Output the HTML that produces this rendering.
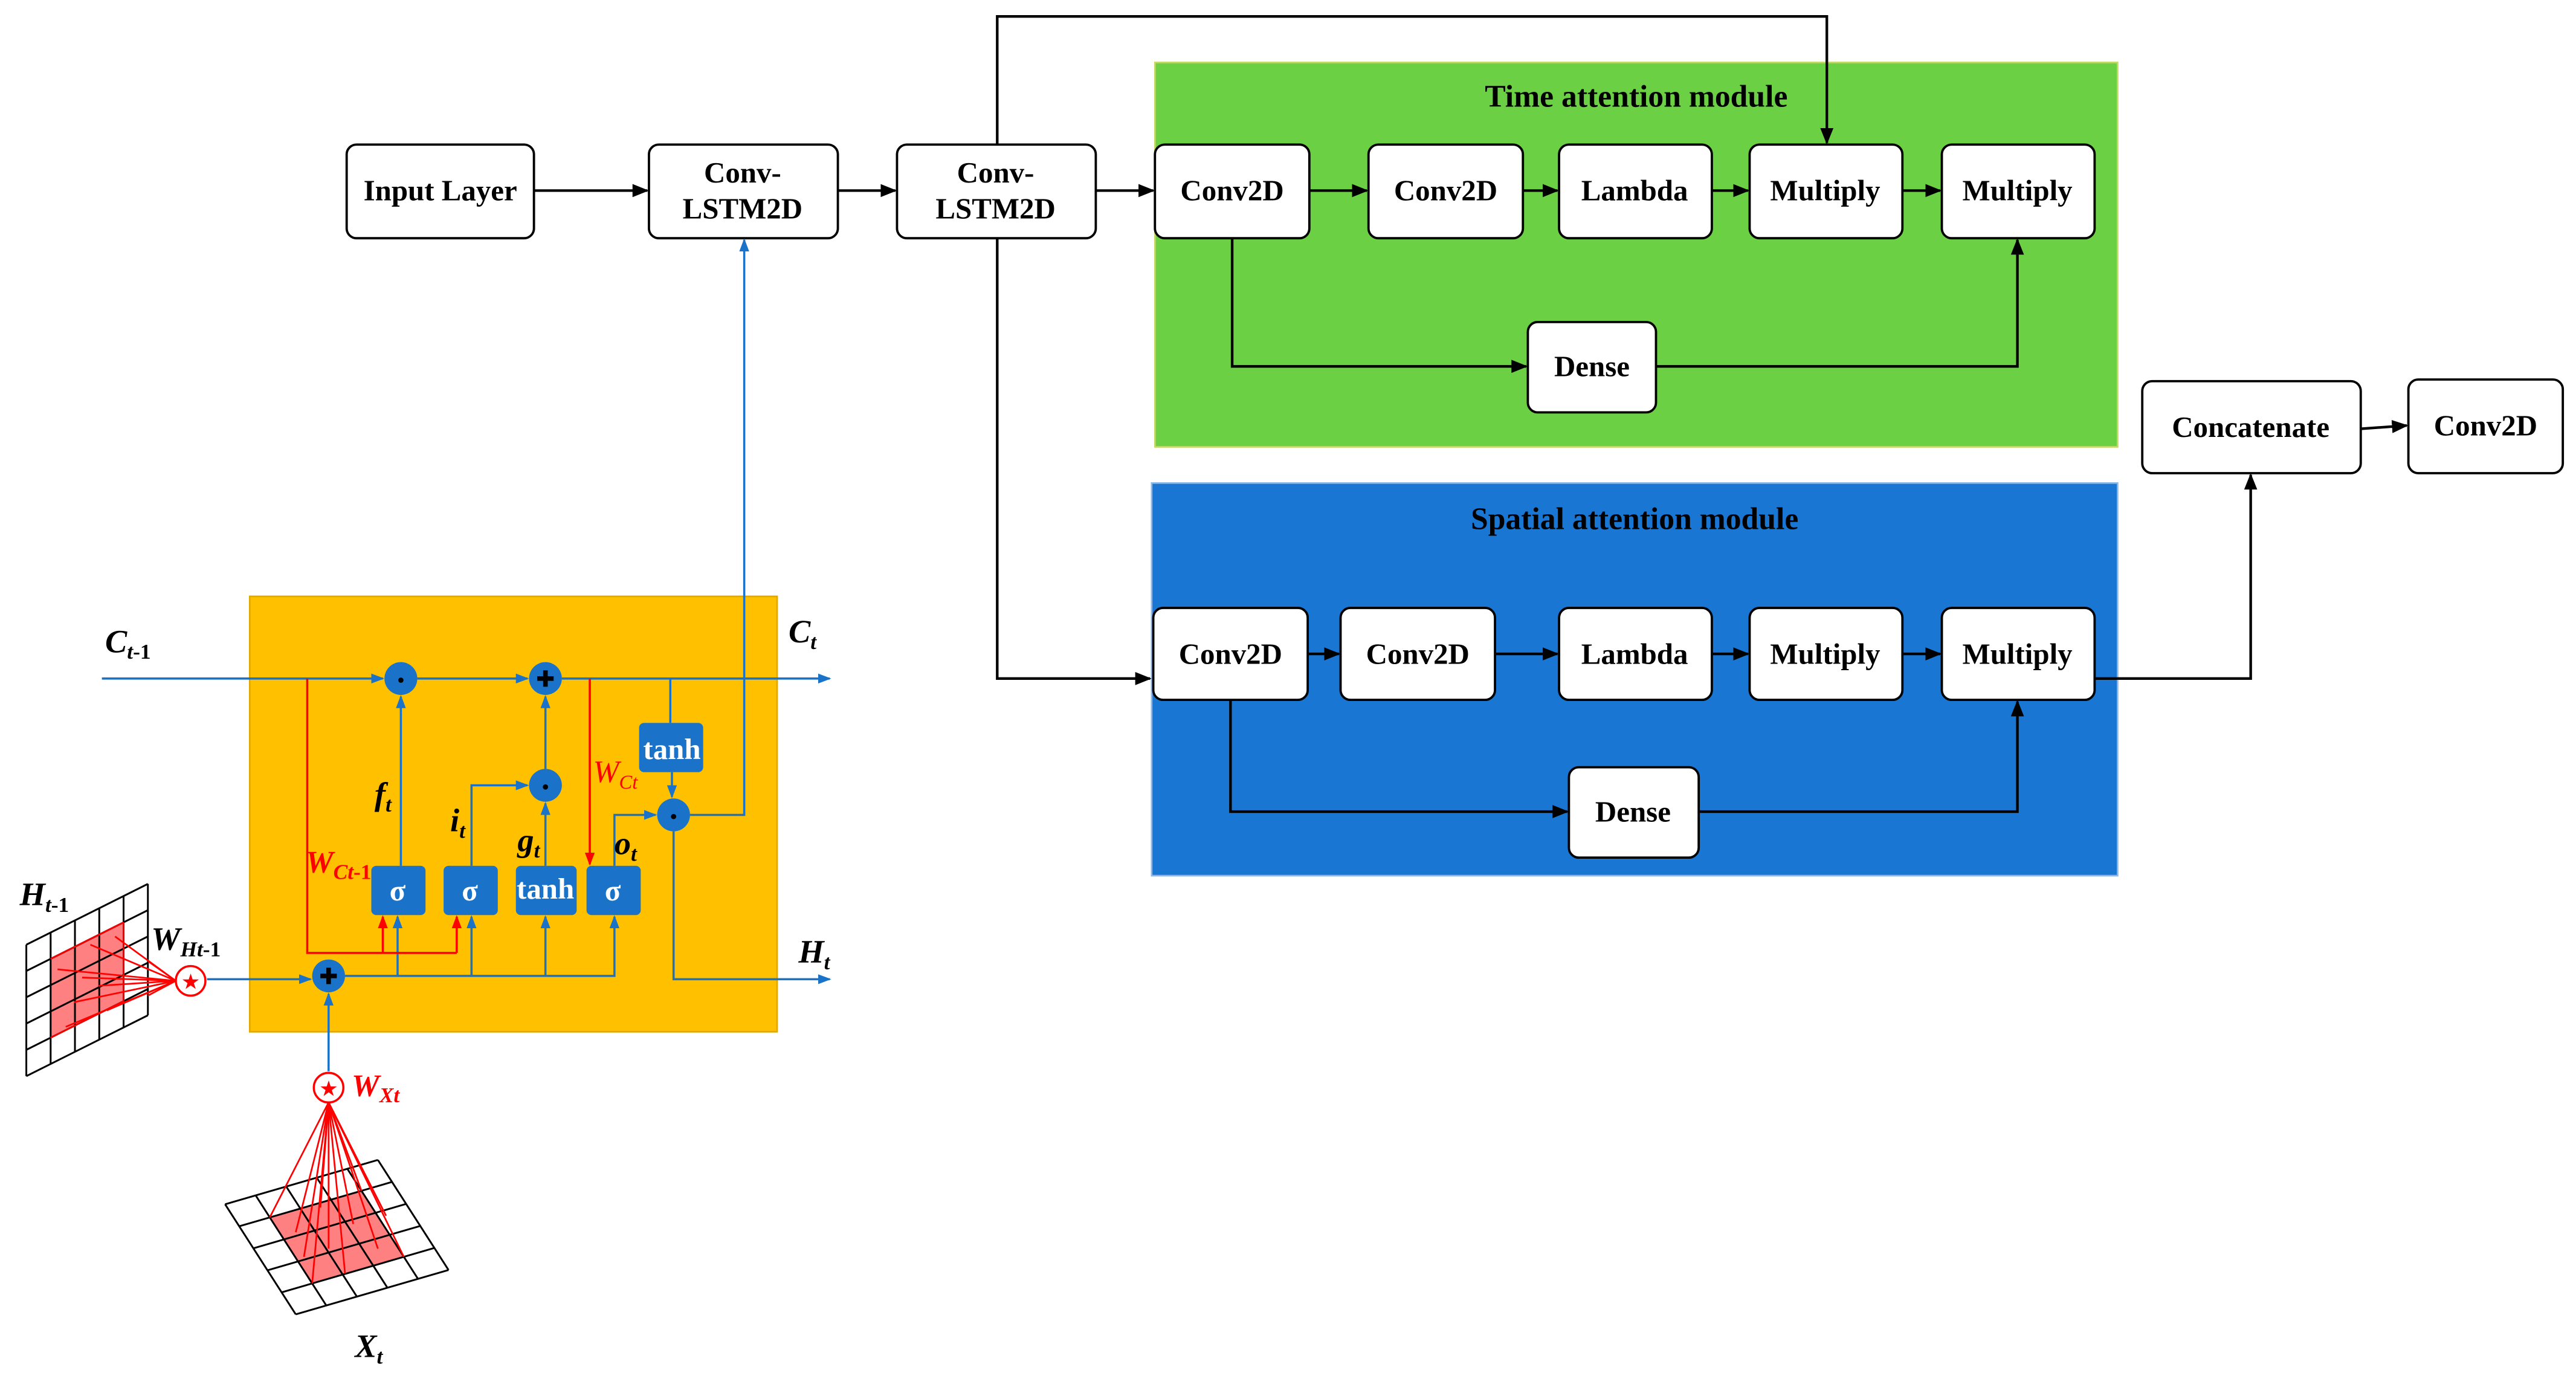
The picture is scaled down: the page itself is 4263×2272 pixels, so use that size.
<!DOCTYPE html>
<html><head><meta charset="utf-8"><style>
html,body{margin:0;padding:0;background:#fff;}
svg{display:block;font-family:"Liberation Serif","Times New Roman",serif;}
svg text{font-family:"Liberation Serif","Times New Roman",serif;}
</style></head><body>
<svg width="4263" height="2272" viewBox="0 0 1568 835.7" xmlns="http://www.w3.org/2000/svg" font-family="'Liberation Serif', 'Times New Roman', serif">
<defs>
<marker id="ak" markerWidth="10" markerHeight="10" refX="9" refY="5" orient="auto" markerUnits="userSpaceOnUse"><path d="M0,1 L10,5 L0,9 Z" fill="#000"/></marker>
<marker id="ab" markerWidth="8" markerHeight="8" refX="7" refY="4" orient="auto" markerUnits="userSpaceOnUse"><path d="M0,1 L8,4 L0,7 Z" fill="#1a73c8"/></marker>
<marker id="ar" markerWidth="8" markerHeight="8" refX="7" refY="4" orient="auto" markerUnits="userSpaceOnUse"><path d="M0,1 L8,4 L0,7 Z" fill="#f00"/></marker>
</defs>
<rect width="1568" height="836" fill="#fff"/>

<rect x="703" y="38" width="586" height="234" fill="#6cd044" stroke="#c8d86a" stroke-width="1"/>
<text x="996" y="65" font-size="19" font-weight="bold" text-anchor="middle">Time attention module</text>
<rect x="701" y="294" width="588" height="239" fill="#1976d2" stroke="#8fb8e8" stroke-width="1"/>
<text x="995" y="322" font-size="19" font-weight="bold" text-anchor="middle">Spatial attention module</text>

<rect x="152" y="363" width="321" height="265" fill="#ffc000" stroke="#e0a800" stroke-width="1"/>

<g stroke="#000" stroke-width="1.6" fill="none">
<line x1="325" y1="116" x2="394" y2="116" marker-end="url(#ak)"/>
<line x1="510" y1="116" x2="545" y2="116" marker-end="url(#ak)"/>
<line x1="667" y1="116" x2="702" y2="116" marker-end="url(#ak)"/>
<polyline points="607,88 607,10 1112,10 1112,87" marker-end="url(#ak)"/>
<polyline points="607,145 607,413 700,413" marker-end="url(#ak)"/>
<line x1="797" y1="116" x2="832" y2="116" marker-end="url(#ak)"/>
<line x1="927" y1="116" x2="948" y2="116" marker-end="url(#ak)"/>
<line x1="1042" y1="116" x2="1064" y2="116" marker-end="url(#ak)"/>
<line x1="1158" y1="116" x2="1181" y2="116" marker-end="url(#ak)"/>
<polyline points="750,145 750,223 929,223" marker-end="url(#ak)"/>
<polyline points="1008,223 1228,223 1228,146" marker-end="url(#ak)"/>
<line x1="796" y1="398" x2="815" y2="398" marker-end="url(#ak)"/>
<line x1="910" y1="398" x2="948" y2="398" marker-end="url(#ak)"/>
<line x1="1042" y1="398" x2="1064" y2="398" marker-end="url(#ak)"/>
<line x1="1158" y1="398" x2="1181" y2="398" marker-end="url(#ak)"/>
<polyline points="749,426 749,494 954,494" marker-end="url(#ak)"/>
<polyline points="1034,494 1228,494 1228,427" marker-end="url(#ak)"/>
<polyline points="1275,413 1370,413 1370,289" marker-end="url(#ak)"/>
<line x1="1437" y1="261" x2="1465" y2="259" marker-end="url(#ak)"/>
</g>

<g fill="#fff" stroke="#000" stroke-width="1.4">
<rect x="211" y="88" width="114" height="57" rx="6"/>
<rect x="395" y="88" width="115" height="57" rx="6"/>
<rect x="546" y="88" width="121" height="57" rx="6"/>
<rect x="703" y="88" width="94" height="57" rx="6"/>
<rect x="833" y="88" width="94" height="57" rx="6"/>
<rect x="949" y="88" width="93" height="57" rx="6"/>
<rect x="1065" y="88" width="93" height="57" rx="6"/>
<rect x="1182" y="88" width="93" height="57" rx="6"/>
<rect x="930" y="196" width="78" height="55" rx="6"/>
<rect x="702" y="370" width="94" height="56" rx="6"/>
<rect x="816" y="370" width="94" height="56" rx="6"/>
<rect x="949" y="370" width="93" height="56" rx="6"/>
<rect x="1065" y="370" width="93" height="56" rx="6"/>
<rect x="1182" y="370" width="93" height="56" rx="6"/>
<rect x="955" y="467" width="79" height="55" rx="6"/>
<rect x="1304" y="232" width="133" height="56" rx="6"/>
<rect x="1466" y="231" width="94" height="57" rx="6"/>
</g>
<g font-size="18" font-weight="bold" text-anchor="middle">
<text x="268" y="122">Input Layer</text>
<text x="452" y="111">Conv-</text><text x="452" y="133">LSTM2D</text>
<text x="606" y="111">Conv-</text><text x="606" y="133">LSTM2D</text>
<text x="750" y="122">Conv2D</text>
<text x="880" y="122">Conv2D</text>
<text x="995" y="122">Lambda</text>
<text x="1111" y="122">Multiply</text>
<text x="1228" y="122">Multiply</text>
<text x="969" y="229">Dense</text>
<text x="749" y="404">Conv2D</text>
<text x="863" y="404">Conv2D</text>
<text x="995" y="404">Lambda</text>
<text x="1111" y="404">Multiply</text>
<text x="1228" y="404">Multiply</text>
<text x="994" y="500">Dense</text>
<text x="1370" y="266">Concatenate</text>
<text x="1513" y="265">Conv2D</text>
</g>

<g stroke="#1a73c8" stroke-width="1.3" fill="none">
<line x1="62" y1="413" x2="233" y2="413" marker-end="url(#ab)"/>
<line x1="254" y1="413" x2="321" y2="413" marker-end="url(#ab)"/>
<line x1="342" y1="413" x2="505" y2="413" marker-end="url(#ab)"/>
<line x1="244" y1="527" x2="244" y2="424" marker-end="url(#ab)"/>
<polyline points="287,527 287,478 321,478" marker-end="url(#ab)"/>
<line x1="332" y1="527" x2="332" y2="489" marker-end="url(#ab)"/>
<line x1="332" y1="468" x2="332" y2="424" marker-end="url(#ab)"/>
<polyline points="374,527 374,496 399,496" marker-end="url(#ab)"/>
<line x1="408" y1="413" x2="408" y2="440"/>
<line x1="409" y1="470" x2="409" y2="485" marker-end="url(#ab)"/>
<polyline points="420,496 453,496 453,146" marker-end="url(#ab)"/>
<polyline points="410,506 410,596 505,596" marker-end="url(#ab)"/>
<line x1="126" y1="596" x2="189" y2="596" marker-end="url(#ab)"/>
<polyline points="210,594 374,594 374,558" marker-end="url(#ab)"/>
<line x1="242" y1="594" x2="242" y2="558" marker-end="url(#ab)"/>
<line x1="287" y1="594" x2="287" y2="558" marker-end="url(#ab)"/>
<line x1="332" y1="594" x2="332" y2="558" marker-end="url(#ab)"/>
<line x1="200" y1="652" x2="200" y2="605" marker-end="url(#ab)"/>
</g>
<g stroke="#f00" stroke-width="1.3" fill="none">
<polyline points="187,413 187,580 278,580"/>
<line x1="233" y1="580" x2="233" y2="558" marker-end="url(#ar)"/>
<line x1="278" y1="580" x2="278" y2="558" marker-end="url(#ar)"/>
<line x1="359" y1="413" x2="359" y2="526" marker-end="url(#ar)"/>
</g>
<g fill="#1a73c8">
<circle cx="244" cy="413" r="10"/><circle cx="332" cy="413" r="10"/>
<circle cx="332" cy="478" r="10"/><circle cx="410" cy="496" r="10"/>
<circle cx="200" cy="594" r="10"/>
</g>
<g fill="#000">
<circle cx="244" cy="414" r="1.6"/><circle cx="332" cy="479" r="1.6"/><circle cx="410" cy="497" r="1.6"/>
<path d="M327,413 h10 M332,408 v10 M195,594 h10 M200,589 v10" stroke="#000" stroke-width="2.8"/>
</g>
<g fill="#1a73c8">
<rect x="226" y="527" width="33" height="30" rx="3"/>
<rect x="270" y="527" width="33" height="30" rx="3"/>
<rect x="314" y="527" width="37" height="30" rx="3"/>
<rect x="357" y="527" width="33" height="30" rx="3"/>
<rect x="389" y="440" width="39" height="30" rx="3"/>
</g>
<g fill="#fff" font-weight="bold" text-anchor="middle" font-size="18">
<text x="242" y="548">σ</text><text x="286" y="548">σ</text>
<text x="332" y="547">tanh</text><text x="373" y="548">σ</text>
<text x="409" y="462">tanh</text>
</g>
<g font-weight="bold" font-style="italic" font-size="20">
<text x="64" y="397">C<tspan font-size="13" dy="4">t</tspan><tspan font-size="13" font-style="normal">-1</tspan></text>
<text x="480" y="391">C<tspan font-size="13" dy="4">t</tspan></text>
<text x="486" y="586">H<tspan font-size="13" dy="4">t</tspan></text>
<text x="12" y="551">H<tspan font-size="13" dy="4">t</tspan><tspan font-size="13" font-style="normal">-1</tspan></text>
<text x="92" y="578">W<tspan font-size="13" dy="4">Ht</tspan><tspan font-size="13" font-style="normal">-1</tspan></text>
<text x="228" y="490">f<tspan font-size="13" dy="4">t</tspan></text>
<text x="274" y="506">i<tspan font-size="13" dy="4">t</tspan></text>
<text x="315" y="518">g<tspan font-size="13" dy="4">t</tspan></text>
<text x="374" y="520">o<tspan font-size="13" dy="4">t</tspan></text>
<text x="216" y="826">X<tspan font-size="13" dy="4">t</tspan></text>
</g>
<g fill="#f00" font-style="italic" font-size="19">
<text x="186" y="531" font-weight="bold">W<tspan font-size="13" dy="4">Ct</tspan><tspan font-size="13" font-style="normal">-1</tspan></text>
<text x="361" y="476">W<tspan font-size="12" dy="4">Ct</tspan></text>
<text x="214" y="667" font-weight="bold">W<tspan font-size="13" dy="4">Xt</tspan></text>
</g>

<polygon points="30.8,583.6 75.2,561.4 75.2,609.4 30.8,631.6" fill="#ff8080"/>
<g stroke="#000" stroke-width="1.1">
<line x1="16" y1="575" x2="16" y2="655"/><line x1="30.8" y1="567.6" x2="30.8" y2="647.6"/>
<line x1="45.6" y1="560.2" x2="45.6" y2="640.2"/><line x1="60.4" y1="552.8" x2="60.4" y2="632.8"/>
<line x1="75.2" y1="545.4" x2="75.2" y2="625.4"/><line x1="90" y1="538" x2="90" y2="618"/>
<line x1="16" y1="575" x2="90" y2="538"/><line x1="16" y1="591" x2="90" y2="554"/>
<line x1="16" y1="607" x2="90" y2="570"/><line x1="16" y1="623" x2="90" y2="586"/>
<line x1="16" y1="639" x2="90" y2="602"/><line x1="16" y1="655" x2="90" y2="618"/>
</g>
<g stroke="#f00" stroke-width="1">
<line x1="30.8" y1="583.6" x2="75.2" y2="561.4"/><line x1="75.2" y1="561.4" x2="75.2" y2="609.4"/>
<line x1="75.2" y1="609.4" x2="30.8" y2="631.6"/>
<line x1="107" y1="597" x2="35" y2="590"/><line x1="107" y1="597" x2="45" y2="610"/>
<line x1="107" y1="597" x2="40" y2="625"/><line x1="107" y1="597" x2="55" y2="575"/>
<line x1="107" y1="597" x2="60" y2="600"/><line x1="107" y1="597" x2="70" y2="570"/>
<line x1="107" y1="597" x2="65" y2="615"/><line x1="107" y1="597" x2="50" y2="595"/>
<line x1="107" y1="597" x2="90" y2="585"/><line x1="107" y1="597" x2="90" y2="606"/>
</g>
<circle cx="116" cy="597" r="9" fill="#fff" stroke="#f00" stroke-width="1.3"/>
<text x="116" y="602" font-size="13" fill="#f00" text-anchor="middle">★</text>

<polygon points="164.2,741 220,724.8 245.8,765 190,781.2" fill="#ff8080"/>
<g stroke="#000" stroke-width="1.1">
<line x1="137" y1="733" x2="180" y2="800"/><line x1="155.6" y1="727.6" x2="198.6" y2="794.6"/>
<line x1="174.2" y1="722.2" x2="217.2" y2="789.2"/><line x1="192.8" y1="716.8" x2="235.8" y2="783.8"/>
<line x1="211.4" y1="711.4" x2="254.4" y2="778.4"/><line x1="230" y1="706" x2="273" y2="773"/>
<line x1="137" y1="733" x2="230" y2="706"/><line x1="145.6" y1="746.4" x2="238.6" y2="719.4"/>
<line x1="154.2" y1="759.8" x2="247.2" y2="732.8"/><line x1="162.8" y1="773.2" x2="255.8" y2="746.2"/>
<line x1="171.4" y1="786.6" x2="264.4" y2="759.6"/><line x1="180" y1="800" x2="273" y2="773"/>
</g>
<g stroke="#f00" stroke-width="1">
<line x1="200" y1="671" x2="164.2" y2="741"/><line x1="200" y1="671" x2="220" y2="724.8"/>
<line x1="200" y1="671" x2="245.8" y2="765"/><line x1="200" y1="671" x2="190" y2="781.2"/>
<line x1="200" y1="671" x2="180" y2="750"/><line x1="200" y1="671" x2="200" y2="760"/>
<line x1="200" y1="671" x2="215" y2="745"/><line x1="200" y1="671" x2="230" y2="760"/>
<line x1="200" y1="671" x2="185" y2="765"/><line x1="200" y1="671" x2="210" y2="775"/>
<line x1="200" y1="671" x2="195" y2="735"/><line x1="200" y1="671" x2="235" y2="740"/>
</g>
<circle cx="200" cy="662" r="9" fill="#fff" stroke="#f00" stroke-width="1.3"/>
<text x="200" y="667" font-size="13" fill="#f00" text-anchor="middle">★</text>
</svg>
</body></html>
